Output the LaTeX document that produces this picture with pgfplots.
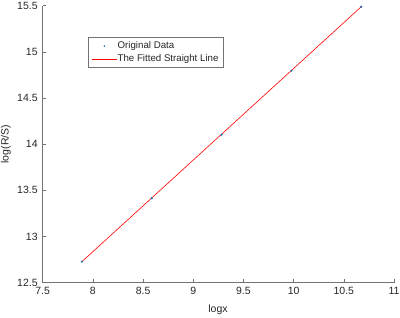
\documentclass[border=0pt]{standalone}
\usepackage{pgfplots}
\pgfplotsset{compat=1.18}
\usepackage{fontspec}
\setmainfont{Liberation Sans}
\definecolor{mblue}{rgb}{0,0.447,0.741}
\definecolor{axgray}{gray}{0.45}
\definecolor{txtgray}{gray}{0.15}
\begin{document}
\begin{tikzpicture}
\begin{axis}[
  at={(0,0)}, anchor=south west,
  scale only axis,
  width=351.3pt, height=277pt,
  xmin=7.5, xmax=11, ymin=12.5, ymax=15.5,
  xtick={7.5,8,...,11}, ytick={12.5,13,...,15.5},
  axis lines=left,
  axis line style={-, draw=axgray, line width=0.5pt},
  tick style={draw=axgray, line width=0.5pt},
  tick align=inside,
  major tick length=3.5pt,
  /pgf/number format/assume math mode=true,
  ticklabel style={font=\fontsize{10.5}{12}\selectfont, text=txtgray},
  xticklabel style={yshift=-1pt},
  yticklabel style={xshift=-1.5pt},
  xlabel={logx}, ylabel={log(R/S)},
  label style={font=\fontsize{10.5}{12}\selectfont, text=txtgray},
  xlabel style={at={(axis description cs:0.499,-0.0986)}, anchor=center},
  ylabel style={at={(axis description cs:-0.1045,0.5)}, anchor=center, rotate=0},
  legend style={at={(axis description cs:0.1298,0.886)}, anchor=north west,
    draw=axgray, line width=0.5pt, fill=white,
    font=\fontsize{9.7}{11}\selectfont, text=txtgray,
    inner xsep=3.5pt, inner ysep=2pt,
    nodes={inner sep=1pt, text height=8pt, text depth=3pt},
    row sep=0pt},
  legend cell align=left,
]
\addplot[only marks, mark=*, mark size=0.8pt, color=mblue,
  legend image code/.code={\fill[mblue] (12pt,0pt) circle (0.5pt); \path (0pt,0pt) (24pt,0pt);}]
  coordinates {(7.890,12.727) (8.586,13.414) (9.282,14.103) (9.978,14.796) (10.674,15.489)};
\addlegendentry{Original Data}
\addplot[red, line width=0.6pt, no marks,
  legend image code/.code={\fill[red] (0pt,-0.1pt) rectangle (24pt,0.1pt);}]
  coordinates {(7.890,12.727) (10.674,15.489)};
\addlegendentry{The Fitted Straight Line}
\end{axis}
\pgfresetboundingbox
\path[use as bounding box] (-42.7pt,-35.3pt) rectangle (357.3pt,282.7pt);
\end{tikzpicture}
\end{document}
